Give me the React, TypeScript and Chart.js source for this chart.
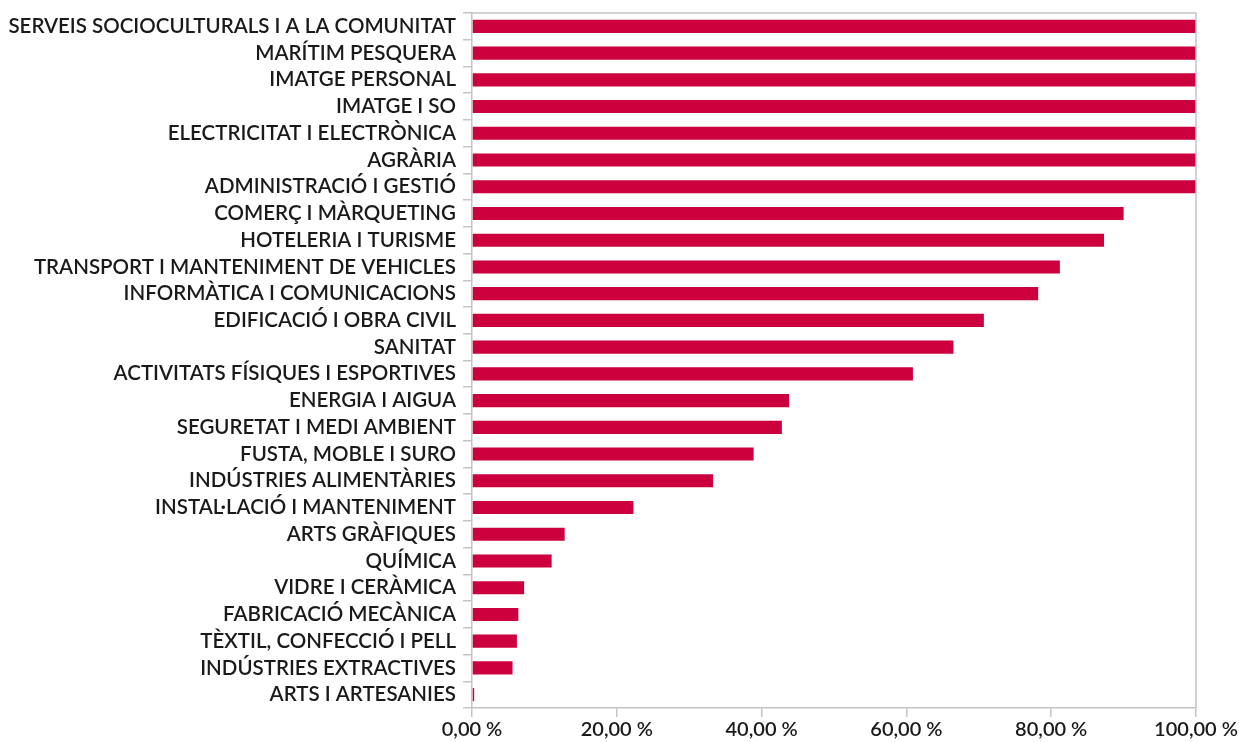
import React, { useEffect, useRef } from "react";
import { Chart, registerables } from "chart.js";

Chart.register(...registerables);

const categories: string[] = [
  "SERVEIS SOCIOCULTURALS I A LA COMUNITAT",
  "MARÍTIM PESQUERA",
  "IMATGE PERSONAL",
  "IMATGE I SO",
  "ELECTRICITAT I ELECTRÒNICA",
  "AGRÀRIA",
  "ADMINISTRACIÓ I GESTIÓ",
  "COMERÇ I MÀRQUETING",
  "HOTELERIA I TURISME",
  "TRANSPORT I MANTENIMENT DE VEHICLES",
  "INFORMÀTICA I COMUNICACIONS",
  "EDIFICACIÓ I OBRA CIVIL",
  "SANITAT",
  "ACTIVITATS FÍSIQUES I ESPORTIVES",
  "ENERGIA I AIGUA",
  "SEGURETAT I MEDI AMBIENT",
  "FUSTA, MOBLE I SURO",
  "INDÚSTRIES ALIMENTÀRIES",
  "INSTAL·LACIÓ I MANTENIMENT",
  "ARTS GRÀFIQUES",
  "QUÍMICA",
  "VIDRE I CERÀMICA",
  "FABRICACIÓ MECÀNICA",
  "TÈXTIL, CONFECCIÓ I PELL",
  "INDÚSTRIES EXTRACTIVES",
  "ARTS I ARTESANIES",
];

const values: number[] = [
  100, 100, 100, 100, 100, 100, 100, 90.0, 87.3, 81.2, 78.2, 70.7, 66.5, 60.9,
  43.8, 42.8, 38.9, 33.3, 22.3, 12.8, 11.0, 7.2, 6.4, 6.2, 5.6, 0.3,
];

const xTicks: number[] = [0, 20, 40, 60, 80, 100];

const frame = {
  id: "frame",
  afterDraw(chart: any) {
    const { ctx, chartArea } = chart;
    ctx.save();
    ctx.strokeStyle = "#c4c4c4";
    ctx.lineWidth = 1.5;
    ctx.beginPath();
    ctx.moveTo(chartArea.left, chartArea.top);
    ctx.lineTo(chartArea.right, chartArea.top);
    ctx.lineTo(chartArea.right, chartArea.bottom);
    ctx.stroke();
    ctx.restore();
  },
};

export default function App() {
  const ref = useRef<HTMLCanvasElement | null>(null);
  useEffect(() => {
    if (!ref.current) return;
    const chart = new Chart(ref.current, {
      type: "bar",
      data: {
        labels: categories,
        datasets: [
          {
            data: values,
            backgroundColor: "#cc003c",
            borderWidth: 0,
            barPercentage: 0.49,
            categoryPercentage: 1,
          },
        ],
      },
      options: {
        indexAxis: "y",
        animation: false,
        responsive: false,
        maintainAspectRatio: false,
        layout: { padding: { top: 13, right: 43, left: 0, bottom: 0 } },
        plugins: { legend: { display: false }, tooltip: { enabled: false } },
        scales: {
          x: {
            min: 0,
            max: 100,
            afterBuildTicks: (scale: any) => {
              scale.ticks = xTicks.map((v) => ({ value: v }));
            },
            afterFit: (scale: any) => {
              scale.height = 34;
            },
            grid: {
              drawOnChartArea: false,
              drawTicks: true,
              tickLength: 9,
              color: "#c4c4c4",
              lineWidth: 1.5,
            },
            border: { display: true, color: "#c4c4c4", width: 1.5 },
            ticks: {
              padding: 1,
              color: "#1a1a1a",
              font: { family: "Lato", size: 20, weight: "600" },
              callback: (v: any) =>
                Number(v).toFixed(2).replace(".", ",") + " %",
            },
          },
          y: {
            afterFit: (scale: any) => {
              scale.width = 472;
              scale.paddingTop = 0;
              scale.paddingBottom = 0;
            },
            grid: {
              drawOnChartArea: false,
              drawTicks: true,
              tickLength: 9,
              color: "#c4c4c4",
              lineWidth: 1.5,
              offset: true,
            },
            border: { display: true, color: "#c4c4c4", width: 1.5 },
            ticks: {
              padding: 7,
              color: "#1a1a1a",
              autoSkip: false,
              font: { family: "Lato", size: 20.5, weight: "600" },
            },
          },
        },
      },
      plugins: [frame],
    });
    return () => chart.destroy();
  }, []);
  return (
    <div style={{ position: "fixed", left: 0, top: 0, width: 1239, height: 742, background: "#fff" }}>
      <canvas ref={ref} width={1239} height={742} />
    </div>
  );
}
